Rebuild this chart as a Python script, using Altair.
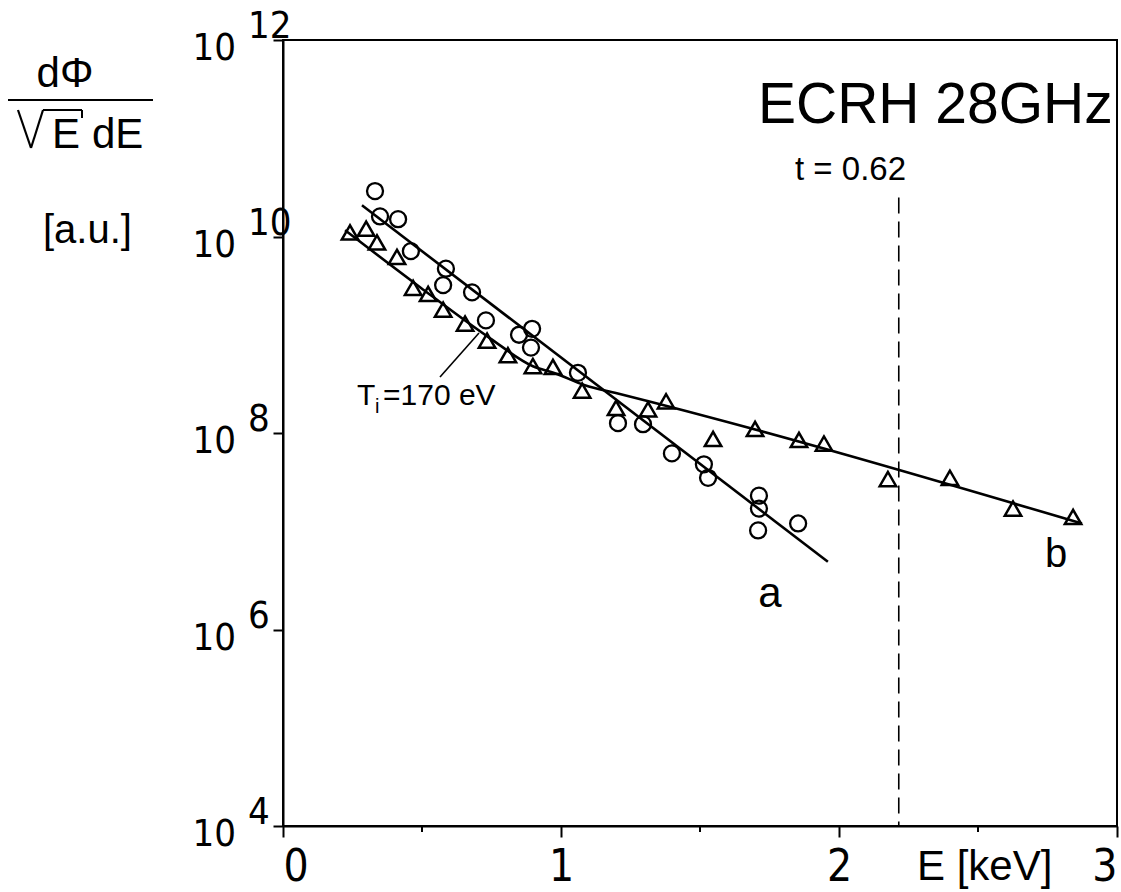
import altair as alt
import pandas as pd

# ---- measured spectra -------------------------------------------------------
# curve a (open circles): energy in keV, d(phi)/(sqrt(E) dE) in arbitrary units
a_energy = [0.331, 0.349, 0.414, 0.460, 0.586, 0.576, 0.680, 0.730, 0.849, 0.896,
            0.892, 1.061, 1.205, 1.295, 1.399, 1.514, 1.529, 1.712, 1.712, 1.709, 1.853]
a_flux = [2.9e10, 1.6e10, 1.5e10, 7.1e9, 4.7e9, 3.2e9, 2.7e9, 1.4e9, 1.0e9, 1.15e9,
          7.4e8, 4.1e8, 1.26e8, 1.23e8, 6.2e7, 4.8e7, 3.5e7, 2.3e7, 1.7e7, 1.02e7, 1.2e7]

# curve b (open triangles)
b_energy = [0.241, 0.299, 0.338, 0.410, 0.468, 0.522, 0.576, 0.655, 0.734, 0.809,
            0.899, 0.971, 1.076, 1.198, 1.313, 1.378, 1.547, 1.698, 1.856, 1.946,
            2.176, 2.399, 2.626, 2.842]
b_flux = [1.1e10, 1.2e10, 8.7e9, 6.2e9, 3.0e9, 2.6e9, 1.8e9, 1.3e9, 8.7e8, 6.2e8,
          4.8e8, 4.7e8, 2.7e8, 1.8e8, 1.74e8, 2.1e8, 8.7e7, 1.1e8, 8.5e7, 7.8e7,
          3.4e7, 3.5e7, 1.7e7, 1.4e7]

# fitted curves
fit_a_energy = [0.284, 1.960]
fit_a_flux = [2.08e10, 4.9e6]
fit_b_energy = [0.223, 0.493, 0.745, 0.899, 0.978, 1.086, 1.201, 2.874]
fit_b_flux = [1.16e10, 3.05e9, 9.2e8, 4.78e8, 4.06e8, 3.06e8, 2.54e8, 1.2e7]

# vertical marker at t = 0.62
marker_energy = [2.215]
marker_top = [2.5e10]

# axis ticks
x_ticks = [0, 1, 2, 3]
x_minor = [0.5, 1.5, 2.5]
y_exponents = [4, 6, 8, 10, 12]

W, H = 834, 786
FONT = "Liberation Sans"
NARROW = "'Liberation Sans Narrow', 'DejaVu Sans Condensed', 'Liberation Sans'"

x_scale = alt.Scale(domain=[0, 3], nice=False, zero=False)
y_scale = alt.Scale(type="log", domain=[1e4, 1e12], nice=False)
x_axis = alt.Axis(values=x_ticks, format="d", title=None, labelFontSize=44,
                  labelFont=NARROW, tickSize=11, labelPadding=8, grid=False)
y_axis = alt.Axis(values=[10.0 ** k for k in y_exponents], labels=False,
                  title=None, tickSize=10, grid=False)


def X(field):
    return alt.X(f"{field}:Q", scale=x_scale, axis=x_axis)


def Y(field):
    return alt.Y(f"{field}:Q", scale=y_scale, axis=y_axis)


pts_a = pd.DataFrame({"E": a_energy, "F": a_flux})
pts_b = pd.DataFrame({"E": b_energy, "F": b_flux})
line_a = pd.DataFrame({"E": fit_a_energy, "F": fit_a_flux})
line_b = pd.DataFrame({"E": fit_b_energy, "F": fit_b_flux})
marker = pd.DataFrame({"E": marker_energy, "top": marker_top, "bottom": [1e4]})
minor = pd.DataFrame({"E": x_minor})
ylab = pd.DataFrame({"F": [10.0 ** k for k in y_exponents],
                     "exp": [str(k) for k in y_exponents]})
one = pd.DataFrame({"_": [0]})

layers = []

layers.append(alt.Chart(line_a).mark_line(color="black", strokeWidth=2.6)
              .encode(x=X("E"), y=Y("F")))
layers.append(alt.Chart(line_b).mark_line(color="black", strokeWidth=2.6,
                                          interpolate="monotone")
              .encode(x=X("E"), y=Y("F")))
layers.append(alt.Chart(pts_a).mark_point(shape="circle", size=256, filled=False,
                                          color="black", strokeWidth=2.3, opacity=1)
              .encode(x=X("E"), y=Y("F")))
layers.append(alt.Chart(pts_b).mark_point(shape="triangle-up", size=270, filled=False,
                                          color="black", strokeWidth=2.5, opacity=1)
              .encode(x=X("E"), y=Y("F")))
layers.append(alt.Chart(marker).mark_rule(color="black", strokeWidth=1.6,
                                          strokeDash=[16, 8])
              .encode(x=X("E"), y=Y("top"), y2="bottom:Q"))
layers.append(alt.Chart(minor).mark_rule(color="black", strokeWidth=2)
              .encode(x=X("E"), y=alt.value(H), y2=alt.value(H + 6)))

# y tick labels written as 10 with a raised exponent
layers.append(alt.Chart(ylab).mark_text(font=NARROW, fontSize=38, align="right",
                                        baseline="alphabetic", dy=20, color="black")
              .encode(y=Y("F"), x=alt.value(-47), text=alt.value("10")))
layers.append(alt.Chart(ylab).mark_text(font=NARROW, fontSize=38, align="left",
                                        baseline="alphabetic", dy=-2, color="black")
              .encode(y=Y("F"), x=alt.value(-35), text="exp:N"))


def label(txt, x, y, size, align="left", font=FONT):
    return (alt.Chart(one)
            .mark_text(font=font, fontSize=size, align=align, baseline="alphabetic",
                       color="black")
            .encode(x=alt.value(x), y=alt.value(y), text=alt.value(txt)))


def stroke(x1, y1, x2, y2, width=2):
    return (alt.Chart(one).mark_rule(color="black", strokeWidth=width)
            .encode(x=alt.value(x1), y=alt.value(y1), x2=alt.value(x2), y2=alt.value(y2)))


# annotations inside the frame
layers.append(label("ECRH 28GHz", 475, 83, 57))
layers.append(label("t = 0.62", 512, 140, 33))
layers.append(label("T", 74, 365, 30))
layers.append(label("i", 92, 373, 20))
layers.append(label("=170 eV", 100, 365, 30))
layers.append(stroke(157, 337, 196, 293, 1.6))
layers.append(label("a", 487, 567, 42, align="center"))
layers.append(label("b", 773, 527, 40, align="center"))

# x axis title
layers.append(label("E [keV]", 634, 840, 42))

# y axis title: d(phi) over sqrt(E) dE, units below
layers.append(label("d\u03a6", -218, 47, 42, align="center"))
layers.append(stroke(-275, 60, -130, 60, 2))
layers.append(stroke(-265, 70, -252, 108, 2.2))
layers.append(stroke(-252, 108, -240, 70, 2.2))
layers.append(stroke(-240, 70, -201, 70, 2.2))
layers.append(stroke(-201, 70, -201, 78, 2))
layers.append(label("E", -231, 108, 42))
layers.append(label("dE", -191, 108, 42))
layers.append(label("[a.u.]", -240, 203, 40))

chart = (
    alt.layer(*layers)
    .properties(width=W, height=H, autosize=alt.AutoSizeParams(type="none"),
                padding={"left": 283, "top": 40, "right": 4, "bottom": 66},
                background="white")
    .configure_view(stroke="black", strokeWidth=2)
    .configure_axis(domainColor="black", domainWidth=2, tickColor="black",
                    tickWidth=2, labelColor="black")
)

chart.save("out.html", embed_options={"renderer": "svg", "actions": False})
